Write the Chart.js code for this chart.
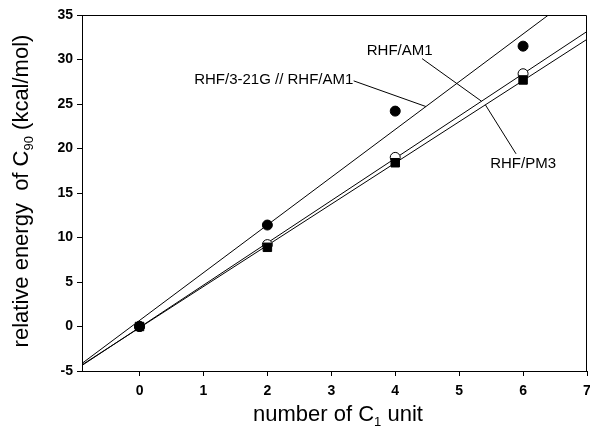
<!DOCTYPE html>
<html>
<head>
<meta charset="utf-8">
<script src="https://cdn.jsdelivr.net/npm/chart.js@4.4.1/dist/chart.umd.min.js"></script>
<style>
  html, body { margin: 0; padding: 0; background: #fff; overflow: hidden; }
  #wrap { width: 590px; height: 439px; overflow: hidden; }
  canvas { display: block; }
</style>
</head>
<body>
<div id="wrap"><canvas id="c" width="594" height="439"></canvas></div>
<script>
// data
const xValues = [0, 2, 4, 6];
const rhf321g = [0, 11.4, 24.2, 31.5];   // filled circles
const rhfAm1 = [0, 9.2, 19.0, 28.4];     // open circles
const rhfPm3 = [0, 8.9, 18.4, 27.7];     // filled squares
const xTicks = [0, 1, 2, 3, 4, 5, 6, 7];
const yTicks = [-5, 0, 5, 10, 15, 20, 25, 30, 35];
const xRange = [-0.9, 7];
const yRange = [-5, 35];

// least squares line through a series
function fit(xs, ys) {
    const n = xs.length;
    const mx = xs.reduce((a, b) => a + b, 0) / n;
    const my = ys.reduce((a, b) => a + b, 0) / n;
    let sxy = 0, sxx = 0;
    for (let i = 0; i < n; i++) {
        sxy += (xs[i] - mx) * (ys[i] - my);
        sxx += (xs[i] - mx) * (xs[i] - mx);
    }
    const slope = sxy / sxx;
    return { slope: slope, icpt: my - slope * mx, at: function (x) { return this.icpt + this.slope * x; } };
}

const fit321 = fit(xValues, rhf321g);
const fitAm1 = fit(xValues, rhfAm1);
const fitPm3 = fit(xValues, rhfPm3);

function pts(ys) {
    return xValues.map((x, i) => ({ x: x, y: ys[i] }));
}
function linePts(f) {
    return xRange.map(x => ({ x: x, y: f.at(x) }));
}

// labels with leader lines, in data units
const notes = [
    { text: 'RHF/3-21G // RHF/AM1', x: 2.1, y: 27.75, from: [3.35, 27.6], toX: 4.48, f: fit321 },
    { text: 'RHF/AM1', x: 4.07, y: 31.0, from: [4.42, 30.1], toX: 5.35, f: fitAm1 },
    { text: 'RHF/PM3', x: 6.0, y: 18.3, from: [5.89, 19.4], toX: 5.41, f: fitPm3 }
];

const extras = {
    id: 'extras',
    afterDatasetsDraw(chart) {
        const ctx = chart.ctx;
        const xs = chart.scales.x, ys = chart.scales.y;
        const a = chart.chartArea;
        ctx.save();
        ctx.strokeStyle = '#000';
        ctx.lineWidth = 1;
        ctx.beginPath();
        ctx.moveTo(a.left, a.top + 0.5);
        ctx.lineTo(a.right - 0.5, a.top + 0.5);
        ctx.lineTo(a.right - 0.5, a.bottom);
        ctx.stroke();

        notes.forEach(n => {
            ctx.beginPath();
            ctx.moveTo(xs.getPixelForValue(n.from[0]), ys.getPixelForValue(n.from[1]));
            ctx.lineTo(xs.getPixelForValue(n.toX), ys.getPixelForValue(n.f.at(n.toX)));
            ctx.stroke();
            ctx.fillStyle = '#000';
            ctx.font = '15px "Liberation Sans", Arial, sans-serif';
            ctx.textAlign = 'center';
            ctx.textBaseline = 'middle';
            ctx.fillText(n.text, xs.getPixelForValue(n.x), ys.getPixelForValue(n.y));
        });
        ctx.restore();
    },
    afterDraw(chart) {
        const ctx = chart.ctx;
        ctx.save();
        ctx.fillStyle = '#000';
        ctx.textBaseline = 'alphabetic';
        const big = '22px "Liberation Sans", Arial, sans-serif';
        const small = '13px "Liberation Sans", Arial, sans-serif';

        // x title with subscript
        const xparts = [['number of C', big, 0], ['1', small, 5], [' unit', big, 0]];
        drawParts(ctx, xparts, 338, 421);

        // y title rotated
        ctx.translate(28, 191);
        ctx.rotate(-Math.PI / 2);
        const yparts = [['relative energy  of C', big, 0], ['90', small, 5], [' (kcal/mol)', big, 0]];
        drawParts(ctx, yparts, 0, 0);
        ctx.restore();
    }
};

function drawParts(ctx, parts, cx, by) {
    let w = 0;
    parts.forEach(p => { ctx.font = p[1]; w += ctx.measureText(p[0]).width; });
    let x = cx - w / 2;
    ctx.textAlign = 'left';
    parts.forEach(p => {
        ctx.font = p[1];
        ctx.fillText(p[0], x, by + p[2]);
        x += ctx.measureText(p[0]).width;
    });
}

const tickFont = { family: '"Liberation Sans", Arial, sans-serif', size: 14, weight: 'bold' };

new Chart(document.getElementById('c'), {
    type: 'scatter',
    data: {
        datasets: [
            { label: 'RHF/3-21G // RHF/AM1', data: pts(rhf321g), order: 0,
              pointStyle: 'circle', pointRadius: 5, backgroundColor: '#000', borderColor: '#000', borderWidth: 1 },
            { label: 'RHF/PM3', data: pts(rhfPm3), order: 1,
              pointStyle: 'rect', pointRadius: 6, backgroundColor: '#000', borderColor: '#000', borderWidth: 1 },
            { label: 'RHF/AM1', data: pts(rhfAm1), order: 2,
              pointStyle: 'circle', pointRadius: 5, backgroundColor: '#fff', borderColor: '#000', borderWidth: 1 },
            { data: linePts(fit321), showLine: true, pointRadius: 0, borderColor: '#000', borderWidth: 1, order: 3 },
            { data: linePts(fitAm1), showLine: true, pointRadius: 0, borderColor: '#000', borderWidth: 1, order: 4 },
            { data: linePts(fitPm3), showLine: true, pointRadius: 0, borderColor: '#000', borderWidth: 1, order: 5 }
        ]
    },
    options: {
        responsive: false,
        animation: false,
        layout: { padding: { top: 15, right: 0, left: 0, bottom: 0 } },
        plugins: { legend: { display: false }, tooltip: { enabled: false } },
        scales: {
            x: {
                type: 'linear',
                min: xRange[0], max: xRange[1],
                afterBuildTicks: s => { s.ticks = xTicks.map(v => ({ value: v })); },
                afterFit: s => { s.height = 68; s.paddingRight = 0; },
                border: { display: true, color: '#000', width: 1 },
                grid: { display: true, drawOnChartArea: false, drawTicks: true, tickLength: 5, tickColor: '#000' },
                ticks: { color: '#000', font: tickFont, padding: 7, maxRotation: 0 }
            },
            y: {
                type: 'linear',
                min: yRange[0], max: yRange[1],
                afterBuildTicks: s => { s.ticks = yTicks.map(v => ({ value: v })); },
                afterFit: s => { s.width = 82; },
                border: { display: true, color: '#000', width: 1 },
                grid: { display: true, drawOnChartArea: false, drawTicks: true, tickLength: 5, tickColor: '#000' },
                ticks: { color: '#000', font: tickFont, padding: 4 }
            }
        }
    },
    plugins: [extras]
});
</script>
</body>
</html>
